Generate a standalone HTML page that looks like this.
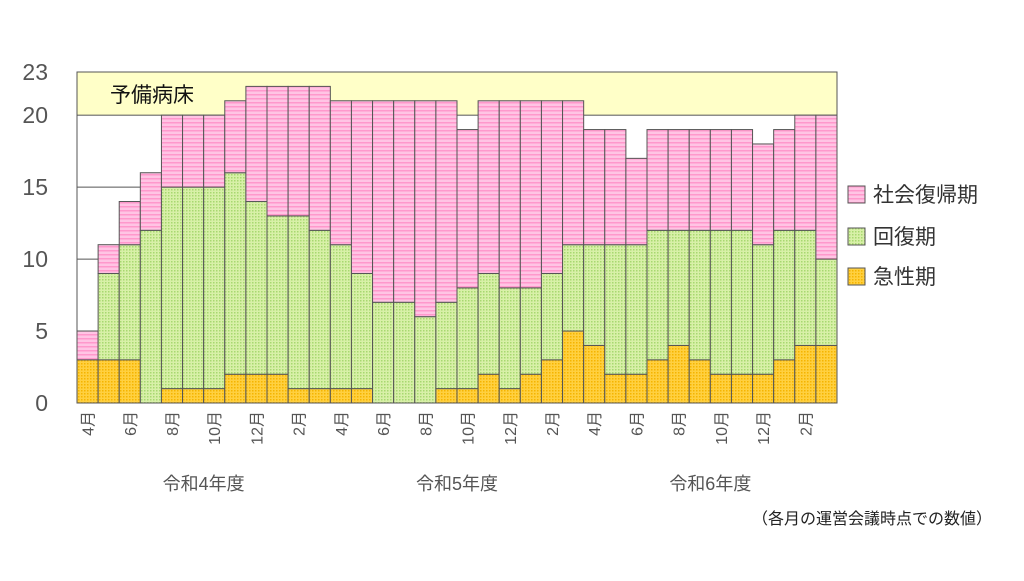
<!DOCTYPE html>
<html><head><meta charset="utf-8"><style>
body{margin:0;background:#fff;width:1024px;height:576px;overflow:hidden;font-family:"Liberation Sans","Noto Sans CJK JP",sans-serif}
</style></head><body>
<svg id="chart" width="1024" height="576" xmlns="http://www.w3.org/2000/svg" font-family="Liberation Sans, Noto Sans CJK JP, sans-serif">
<defs>
<pattern id="pPink" width="4" height="4" patternUnits="userSpaceOnUse"><rect width="4" height="4" fill="#ffc4e4"/><rect y="2" width="4" height="1.5" fill="#ff98cc"/></pattern>
<pattern id="pGreen" width="3" height="3" patternUnits="userSpaceOnUse"><rect width="3" height="3" fill="#d8f0a8"/><rect width="1.5" height="1.5" fill="#a8d870"/></pattern>
<pattern id="pOrange" width="3" height="3" patternUnits="userSpaceOnUse"><rect width="3" height="3" fill="#ffd040"/><rect width="1.5" height="1.5" fill="#f5b400"/></pattern>
</defs>
<g id="g"></g>
</svg>
<script>
const months=["4月","5月","6月","7月","8月","9月","10月","11月","12月","1月","2月","3月","4月","5月","6月","7月","8月","9月","10月","11月","12月","1月","2月","3月","4月","5月","6月","7月","8月","9月","10月","11月","12月","1月","2月","3月"];
const acute=[3,3,3,0,1,1,1,2,2,2,1,1,1,1,0,0,0,1,1,2,1,2,3,5,4,2,2,3,4,3,2,2,2,3,4,4];
const recovery=[0,6,8,12,14,14,14,14,12,11,12,11,10,8,7,7,6,6,7,7,7,6,6,6,7,9,9,9,8,9,10,10,9,9,8,6];
const social=[2,2,3,4,5,5,5,5,8,9,9,10,10,12,14,14,15,14,11,12,13,13,12,10,8,8,6,7,7,7,7,7,7,7,8,10];
const yTicks=[0,5,10,15,20,23];
const fiscalYears=["令和4年度","令和5年度","令和6年度"];
const reserveMin=20, yMax=23;
const L=77,R=837,T=72,B=403;
const NS="http://www.w3.org/2000/svg";
const g=document.getElementById('g');
const bw=(R-L)/months.length;
const y=v=>B-(v/yMax)*(B-T);
const x=i=>L+i*bw;
function el(t,a,txt){const e=document.createElementNS(NS,t);for(const k in a)e.setAttribute(k,a[k]);if(txt!=null)e.textContent=txt;g.appendChild(e);return e;}
let e=el('rect',{x:L,y:y(yMax),width:R-L,height:y(reserveMin)-y(yMax),fill:'#ffffc8',stroke:'#555'});


e=el('text',{x:110,y:102,'font-size':21,fill:'#111'},'予備病床');


yTicks.forEach(v=>{
  if(v>0&&v<reserveMin){e=el('line',{x1:L,x2:R,y1:y(v),y2:y(v),stroke:'#555','stroke-width':1});
  
  }
  e=el('text',{x:48,y:y(v)+8,'font-size':23,fill:'#555','text-anchor':'end'},String(v));
  
  
});
e=el('line',{x1:L,x2:L,y1:T,y2:B,stroke:'#555'});


months.forEach((m,i)=>{
  const segs=[[0,acute[i],'url(#pOrange)','acute-bar'],[acute[i],acute[i]+recovery[i],'url(#pGreen)','recovery-bar'],[acute[i]+recovery[i],acute[i]+recovery[i]+social[i],'url(#pPink)','social-bar']];
  segs.forEach(s=>{if(s[1]>s[0]){
    e=el('rect',{x:x(i),y:y(s[1]),width:bw,height:y(s[0])-y(s[1]),fill:s[2],stroke:'#555','stroke-width':1});
    
    
  }});
  if(i%2===0){
    const cx=x(i)+bw/2+6,cy=411;
    e=el('text',{x:cx,y:cy,'font-size':16,fill:'#555','text-anchor':'end',transform:`rotate(-90 ${cx} ${cy})`},m);
    
    
  }
});
e=el('line',{x1:L,x2:R,y1:B,y2:B,stroke:'#555'});


fiscalYears.forEach((f,k)=>{
  e=el('text',{x:x(k*12+6),y:490,'font-size':18,fill:'#555','text-anchor':'middle'},f);
  
  
});
e=el('text',{x:992,y:524,'font-size':16,fill:'#222','text-anchor':'end'},'（各月の運営会議時点での数値）');


[['社会復帰期','url(#pPink)',196],['回復期','url(#pGreen)',238],['急性期','url(#pOrange)',278]].forEach(l=>{
  e=el('rect',{x:848,y:l[2]-10,width:17,height:17,fill:l[1],stroke:'#555'});
  
  
  e=el('text',{x:873,y:l[2]+6,'font-size':21,fill:'#333'},l[0]);
  
  
});
</script>
</body></html>
